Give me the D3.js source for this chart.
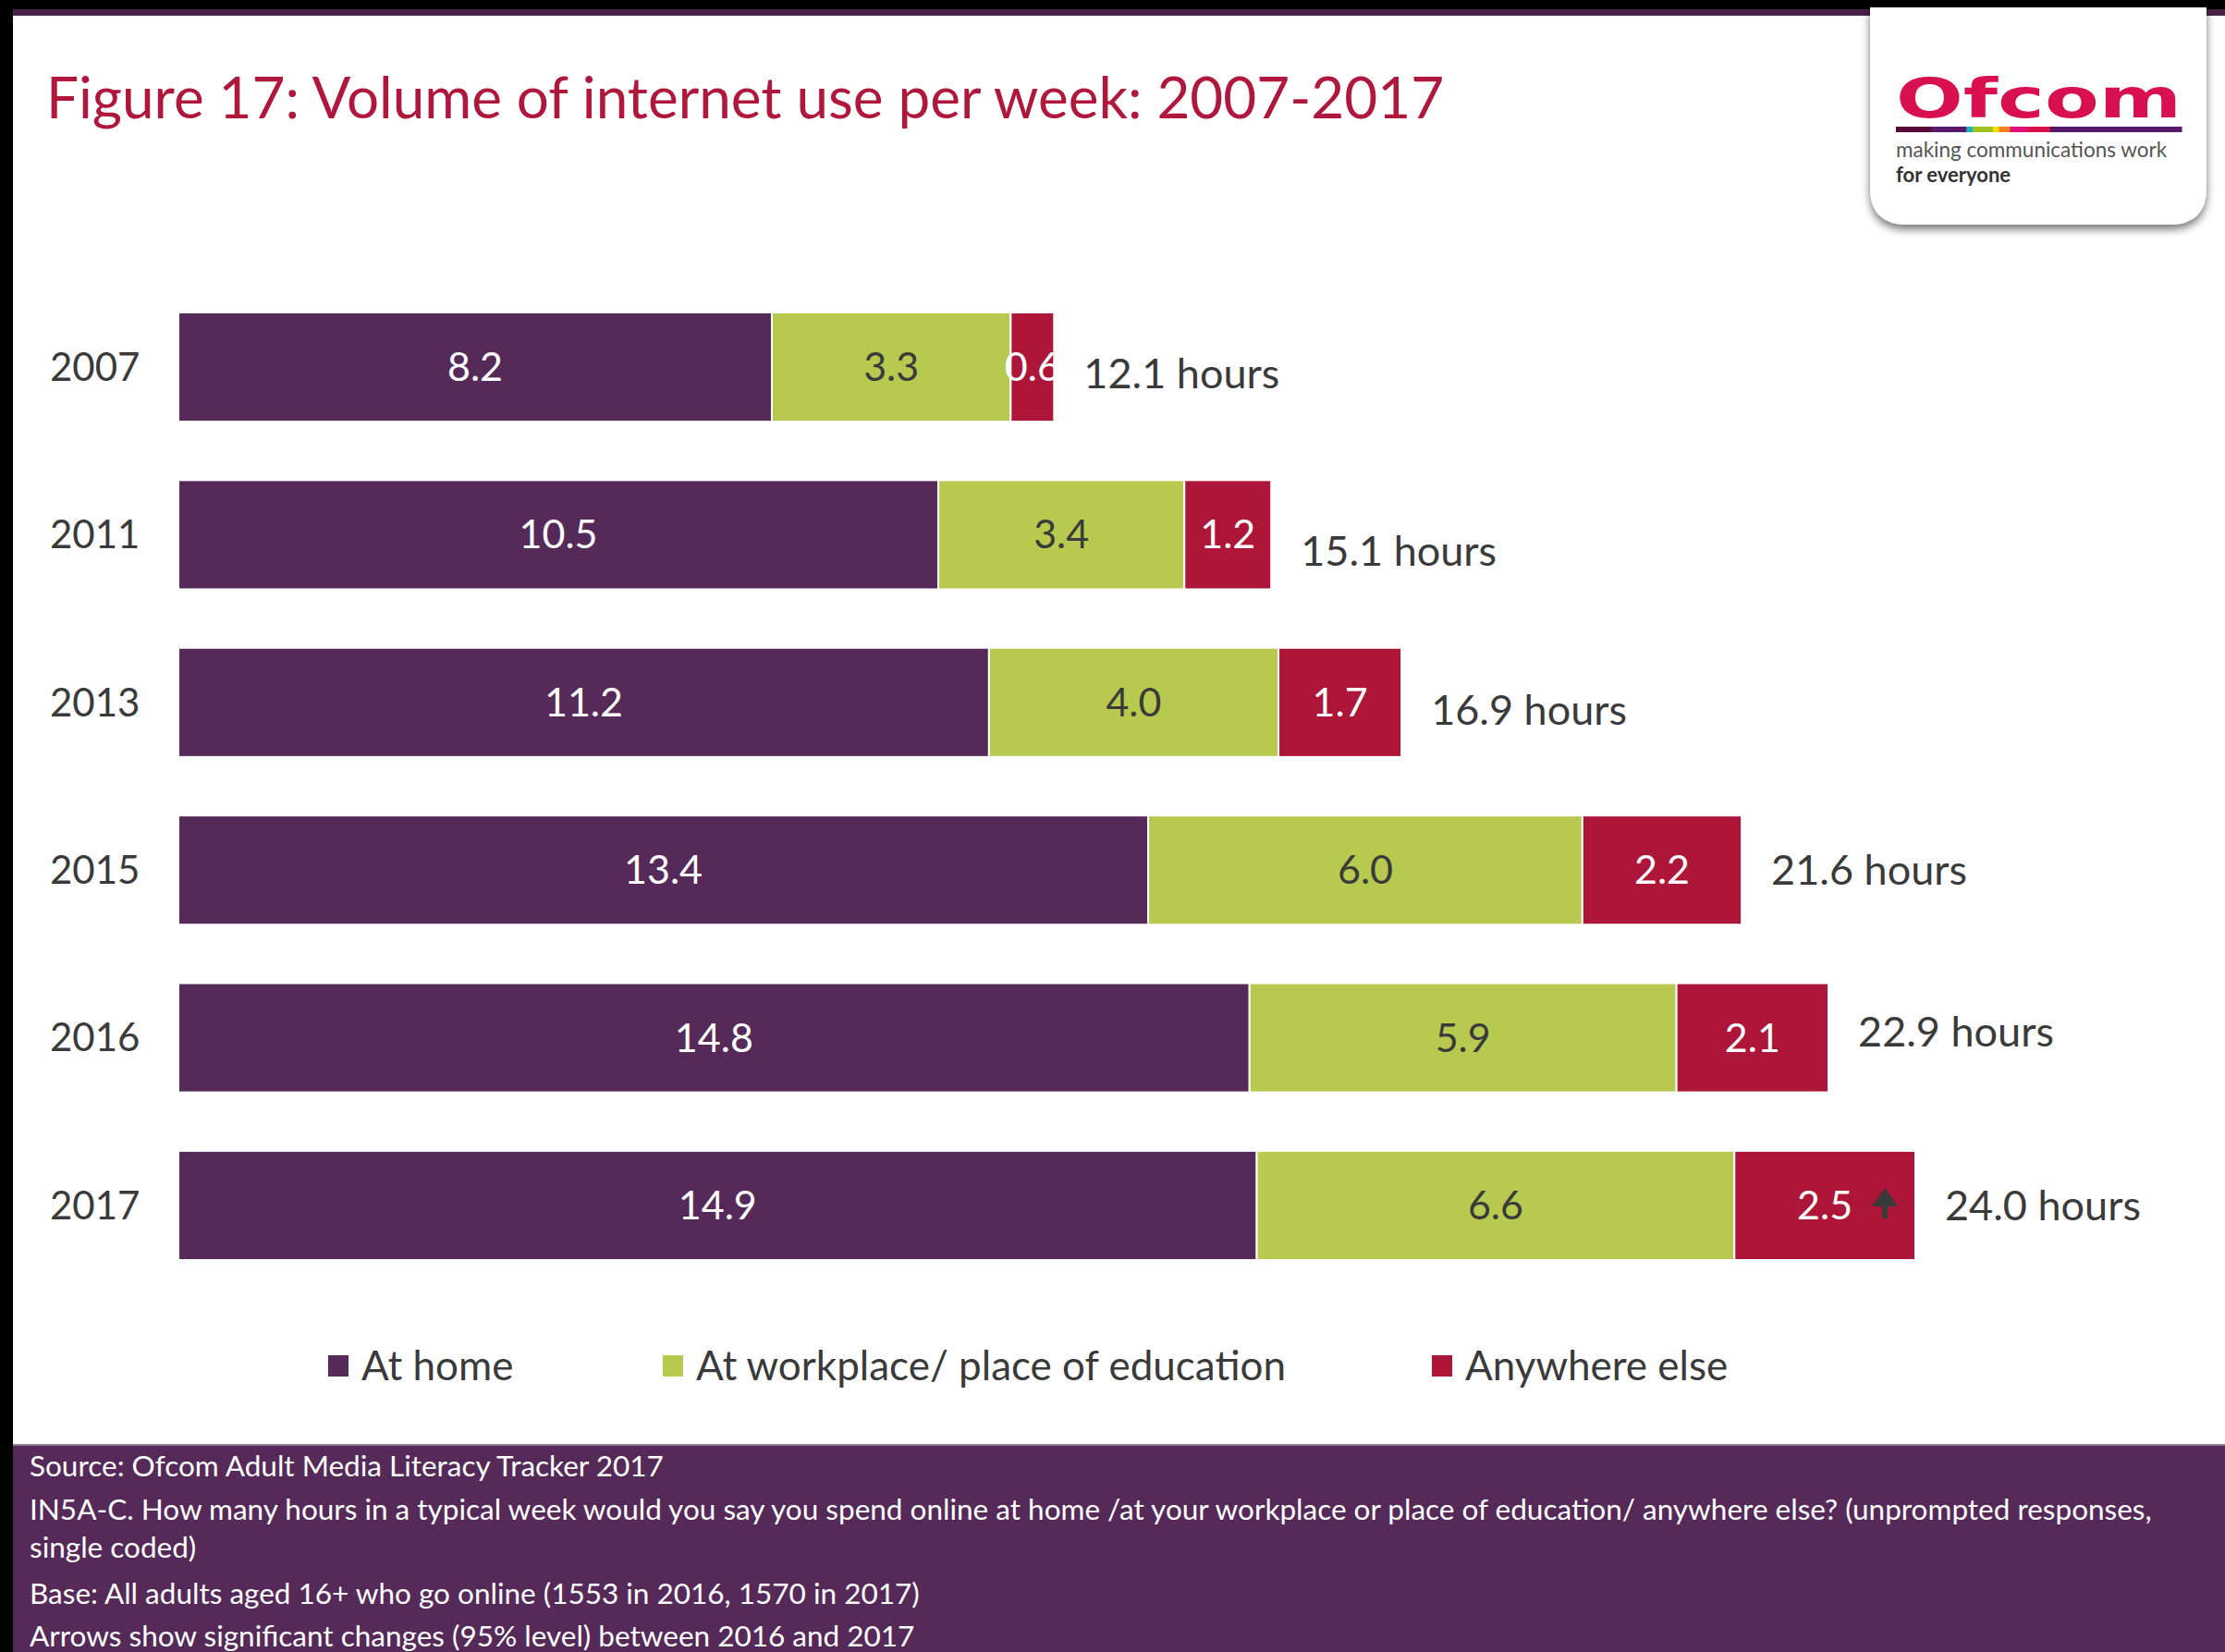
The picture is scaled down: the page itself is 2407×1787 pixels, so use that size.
<!DOCTYPE html>
<html>
<head>
<meta charset="utf-8">
<script src="https://cdn.jsdelivr.net/npm/d3@7"></script>
<style>
  body { margin: 0; background: #fff; }
  svg { display: block; font-family: Lato, "Open Sans", sans-serif; }
</style>
</head>
<body>
<div id="chart"></div>
<script>
// Data
var years = ["2007", "2011", "2013", "2015", "2016", "2017"];
var atHome = [8.2, 10.5, 11.2, 13.4, 14.8, 14.9];
var atWork = [3.3, 3.4, 4.0, 6.0, 5.9, 6.6];
var elsewhere = [0.6, 1.2, 1.7, 2.2, 2.1, 2.5];
var totals = [12.1, 15.1, 16.9, 21.6, 22.9, 24.0];
var sigUp = [false, false, false, false, false, true]; // arrow on "Anywhere else" 2017
var seriesNames = ["At home", "At workplace/ place of education", "Anywhere else"];
var footerLines = [
    "Source: Ofcom Adult Media Literacy Tracker 2017",
    "IN5A-C. How many hours in a typical week would you say you spend online at home /at your workplace or place of education/ anywhere else? (unprompted responses,",
    "single coded)",
    "Base: All adults aged 16+ who go online (1553 in 2016, 1570 in 2017)",
    "Arrows show significant changes (95% level) between 2016 and 2017"
];

var colors = ["#552a59", "#b7ca4f", "#ad1639"];
var textColors = ["#ffffff", "#3a3a3a", "#ffffff"];
// the total labels sit a little off-centre in the original
var totalNudge = [7, 18, 8, 0, -6, 0];

var svgWidth = 2407;
var svgHeight = 1787;

var svg = d3.select("#chart")
    .append("svg")
    .attr("width", svgWidth)
    .attr("height", svgHeight);

// page frame: black edges + purple strip on top
svg.append("rect").attr("x", 0).attr("y", 0).attr("width", svgWidth).attr("height", 10).attr("fill", "#000");
svg.append("rect").attr("x", 14).attr("y", 10).attr("width", svgWidth - 14).attr("height", 7).attr("fill", "#4a2148");
svg.append("rect").attr("x", 0).attr("y", 0).attr("width", 14).attr("height", svgHeight).attr("fill", "#000");

// title
svg.append("text")
    .attr("x", 50)
    .attr("y", 128)
    .attr("fill", "#b0173c")
    .attr("font-size", "62px")
    .text("Figure 17: Volume of internet use per week: 2007-2017");

// logo box
var defs = svg.append("defs");
var shadow = defs.append("filter").attr("id", "shadow").attr("x", "-20%").attr("y", "-20%").attr("width", "140%").attr("height", "150%");
shadow.append("feDropShadow").attr("dx", 0).attr("dy", 5).attr("stdDeviation", 5).attr("flood-color", "#000").attr("flood-opacity", 0.55);

var logo = svg.append("g").attr("transform", "translate(2023, 8)");
var lw = 364, lh = 235, r = 40;
logo.append("path")
    .attr("d", `M0,0 H${lw} V${lh - r} Q${lw},${lh} ${lw - r},${lh} H${r} Q0,${lh} 0,${lh - r} Z`)
    .attr("fill", "#fff")
    .attr("filter", "url(#shadow)");
logo.append("text")
    .attr("x", 28).attr("y", 119)
    .attr("fill", "#d9104f")
    .attr("font-family", "'DejaVu Sans', sans-serif")
    .attr("font-weight", "bold")
    .attr("font-size", "58px")
    .attr("textLength", 309)
    .attr("lengthAdjust", "spacingAndGlyphs")
    .text("Ofcom");
var stripe = [
    ["#5a0a3a", 0.126], ["#5a1a6a", 0.121], ["#1ab0c0", 0.022], ["#a0c020", 0.07],
    ["#f0e000", 0.022], ["#f08020", 0.038], ["#e0107a", 0.06], ["#d8104a", 0.081], ["#561a6a", 0.46]
];
var sx = 28;
stripe.forEach(function(s) {
    logo.append("rect").attr("x", sx).attr("y", 129).attr("width", s[1] * 309 + 0.5).attr("height", 6).attr("fill", s[0]);
    sx += s[1] * 309;
});
logo.append("text").attr("x", 28).attr("y", 162).attr("fill", "#555").attr("font-size", "22.5px").text("making communications work");
logo.append("text").attr("x", 28).attr("y", 189).attr("fill", "#333").attr("font-size", "22px").attr("font-weight", "bold").text("for everyone");

// scales
var xScale = d3.scaleLinear()
    .domain([0, 24])
    .range([193, 2072]);

var yScale = d3.scaleBand()
    .domain(years)
    .range([338, 1363])
    .paddingInner(0.349)
    .paddingOuter(0);

var rows = years.map(function(y, i) {
    return { year: y, s0: atHome[i], s1: atWork[i], s2: elsewhere[i], total: totals[i], sig: sigUp[i], nudge: totalNudge[i] };
});

var stack = d3.stack().keys(["s0", "s1", "s2"]);
var layers = stack(rows);

var chartGroup = svg.append("g");

// year labels
chartGroup.selectAll(".year")
    .data(rows)
    .enter()
    .append("text")
    .attr("x", 54)
    .attr("y", d => yScale(d.year) + yScale.bandwidth() / 2)
    .attr("dy", "0.35em")
    .attr("fill", "#3a3a3a")
    .attr("font-size", "42px")
    .text(d => d.year);

// clip paths so labels never run past their segment end
layers.forEach(function(layer, li) {
    layer.forEach(function(d, i) {
        defs.append("clipPath").attr("id", `clip-${li}-${i}`)
            .append("rect")
            .attr("x", xScale(0))
            .attr("y", yScale(years[i]))
            .attr("width", xScale(d[1]) - xScale(0))
            .attr("height", yScale.bandwidth());
    });
});

var layerGroups = chartGroup.selectAll(".layer")
    .data(layers)
    .enter()
    .append("g")
    .attr("class", "layer");

layerGroups.selectAll("rect")
    .data(d => d)
    .enter()
    .append("rect")
    .attr("x", d => xScale(d[0]))
    .attr("y", d => yScale(d.data.year))
    .attr("width", d => xScale(d[1]) - xScale(d[0]))
    .attr("height", yScale.bandwidth())
    .attr("fill", function() { return colors[d3.select(this.parentNode).datum().index]; })
    .attr("stroke", "#fff")
    .attr("stroke-width", 2);

layerGroups.each(function(layer) {
    var li = layer.index;
    d3.select(this).selectAll("text")
        .data(layer)
        .enter()
        .append("text")
        .attr("clip-path", (d, i) => `url(#clip-${li}-${i})`)
        .attr("x", d => (xScale(d[0]) + xScale(d[1])) / 2)
        .attr("y", d => yScale(d.data.year) + yScale.bandwidth() / 2)
        .attr("dy", "0.35em")
        .attr("text-anchor", "middle")
        .attr("fill", textColors[li])
        .attr("font-size", "43px")
        .text(d => (d[1] - d[0]).toFixed(1));
});

// significance arrows (up)
chartGroup.selectAll(".arrow")
    .data(layers[2].filter(d => d.data.sig))
    .enter()
    .append("path")
    .attr("transform", d => `translate(${xScale(d[1]) - 33}, ${yScale(d.data.year) + yScale.bandwidth() / 2})`)
    .attr("d", "M0,-19 L14,1 L3,1 L3,14 L-3,14 L-3,1 L-14,1 Z")
    .attr("fill", "#3a3a3a");

// totals
chartGroup.selectAll(".total")
    .data(layers[2])
    .enter()
    .append("text")
    .attr("x", d => xScale(d[1]) + 32)
    .attr("y", d => yScale(d.data.year) + yScale.bandwidth() / 2 + d.data.nudge)
    .attr("dy", "0.35em")
    .attr("fill", "#3a3a3a")
    .attr("font-size", "45px")
    .text(d => d.data.total.toFixed(1) + " hours");

// legend
var legendX = [355, 717, 1549];
var legend = svg.selectAll(".legend")
    .data(seriesNames)
    .enter()
    .append("g")
    .attr("transform", (d, i) => `translate(${legendX[i]}, 1478)`);
legend.append("rect")
    .attr("x", 0).attr("y", -12)
    .attr("width", 22).attr("height", 23)
    .attr("fill", (d, i) => colors[i]);
legend.append("text")
    .attr("x", 36)
    .attr("dy", "0.35em")
    .attr("fill", "#3a3a3a")
    .attr("font-size", "44px")
    .text(d => d);

// footer
svg.append("rect")
    .attr("x", 14).attr("y", 1563)
    .attr("width", svgWidth - 14).attr("height", svgHeight - 1563)
    .attr("fill", "#552a59");
svg.append("line")
    .attr("x1", 14).attr("x2", svgWidth)
    .attr("y1", 1563).attr("y2", 1563)
    .attr("stroke", "#8a7a8c").attr("stroke-width", 2);

var footerY = [1597, 1644, 1685, 1735, 1781];
svg.selectAll(".foot")
    .data(footerLines)
    .enter()
    .append("text")
    .attr("x", 32)
    .attr("y", (d, i) => footerY[i])
    .attr("fill", "#fff")
    .attr("font-size", "31.5px")
    .text(d => d);
</script>
</body>
</html>
